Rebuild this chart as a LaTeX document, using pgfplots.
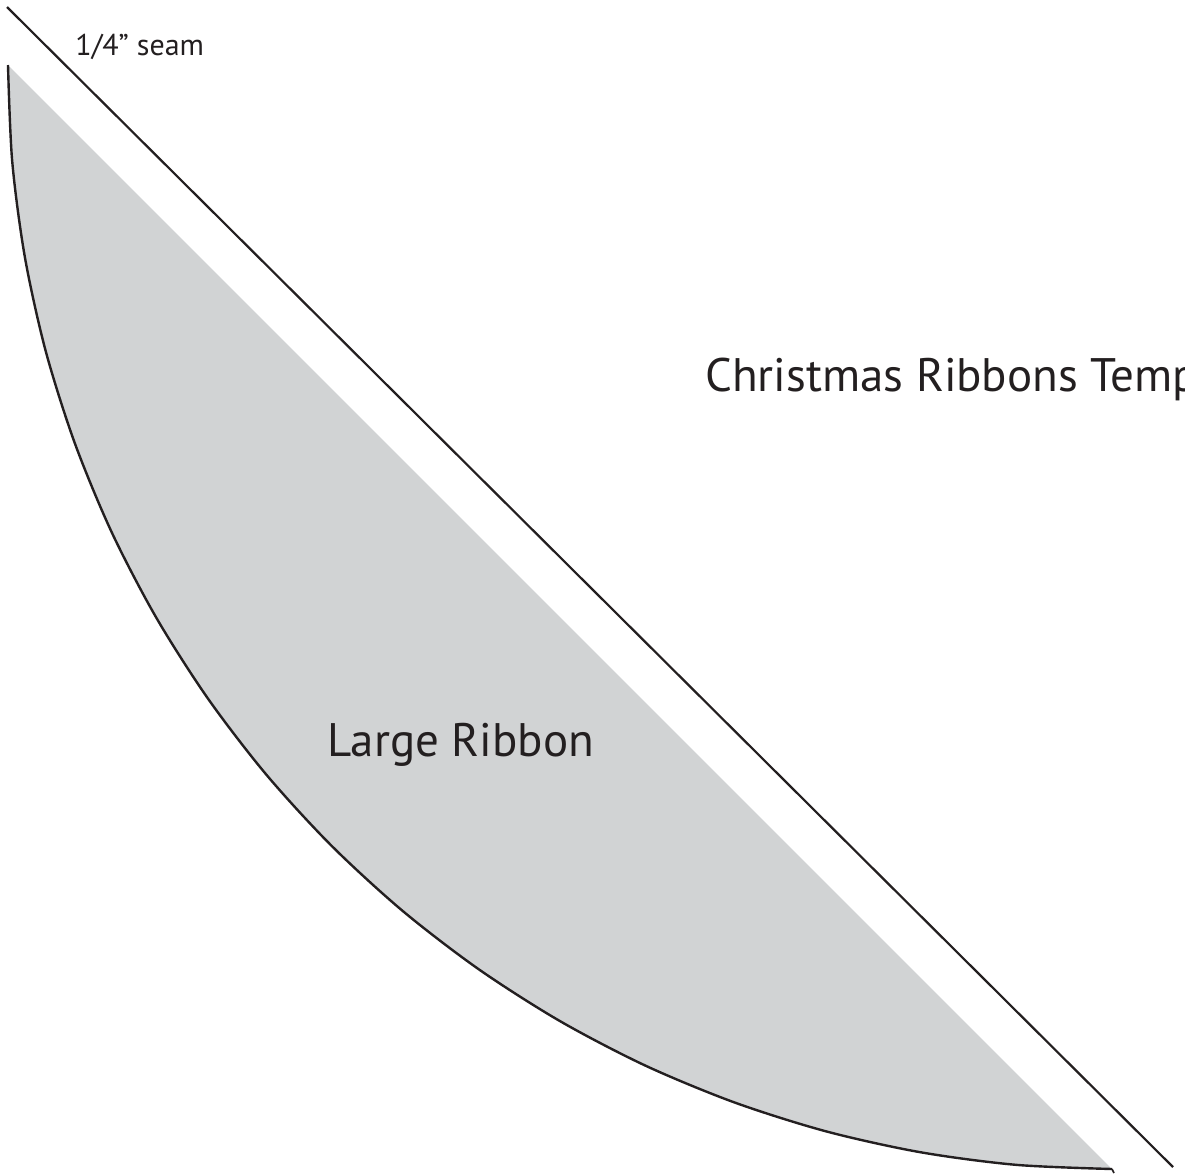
\documentclass[border=0pt]{standalone}
\usepackage{pgfplots}
\pgfplotsset{compat=1.18}
\usepackage{fontspec}
\setmainfont{PT Sans}
\definecolor{ribbon}{RGB}{209,211,212}
\definecolor{ink}{RGB}{35,31,32}
\begin{document}
\begin{tikzpicture}
\useasboundingbox (0,0) rectangle (592.5pt,587.5pt);
\clip (0,0) rectangle (592.5pt,587.5pt);
\begin{axis}[
  scale only axis, width=592.5pt, height=587.5pt,
  xmin=0, xmax=1185, ymin=0, ymax=1175, y dir=reverse,
  hide axis, clip=false, anchor=south west, at={(0,0)}]
% ribbon fill
\addplot[fill=ribbon, draw=none, smooth] coordinates {
 (8,65) (12.2,161.2) (24.8,256.7) (45.6,350.7) (74.6,442.6) (111.4,531.6) (155.9,617)
 (207.7,698.2) (266.3,774.6) (331.4,845.6) (402.4,910.7) (478.8,969.3) (560,1021.1)
 (645.4,1065.6) (734.4,1102.4) (826.3,1131.4) (920.3,1152.2) (1015.8,1164.8) (1112,1169)
} -- cycle;
% curved outline
\addplot[ink, line width=1.2pt, smooth] coordinates {
 (8,65) (12.2,161.2) (24.8,256.7) (45.6,350.7) (74.6,442.6) (111.4,531.6) (155.9,617)
 (207.7,698.2) (266.3,774.6) (331.4,845.6) (402.4,910.7) (478.8,969.3) (560,1021.1)
 (645.4,1065.6) (734.4,1102.4) (826.3,1131.4) (920.3,1152.2) (1015.8,1164.8) (1112,1169)
};
\addplot[ink, line width=0.8pt] coordinates {(1112,1169) (1114,1173)};
% seam line
\addplot[ink, line width=1.1pt] coordinates {(7,7) (1173,1167)};
\node[anchor=base west, inner sep=0pt, text=ink, font=\fontsize{15pt}{18pt}\selectfont] at (axis cs:75,55) {1/4” seam};
\node[anchor=base west, inner sep=0pt, text=ink, font=\fontsize{23.5pt}{28pt}\selectfont] at (axis cs:705,391) {Christmas Ribbons Template};
\node[anchor=base west, inner sep=0pt, text=ink, font=\fontsize{23.5pt}{28pt}\selectfont] at (axis cs:327,756) {Large Ribbon};
\end{axis}
\end{tikzpicture}
\end{document}
